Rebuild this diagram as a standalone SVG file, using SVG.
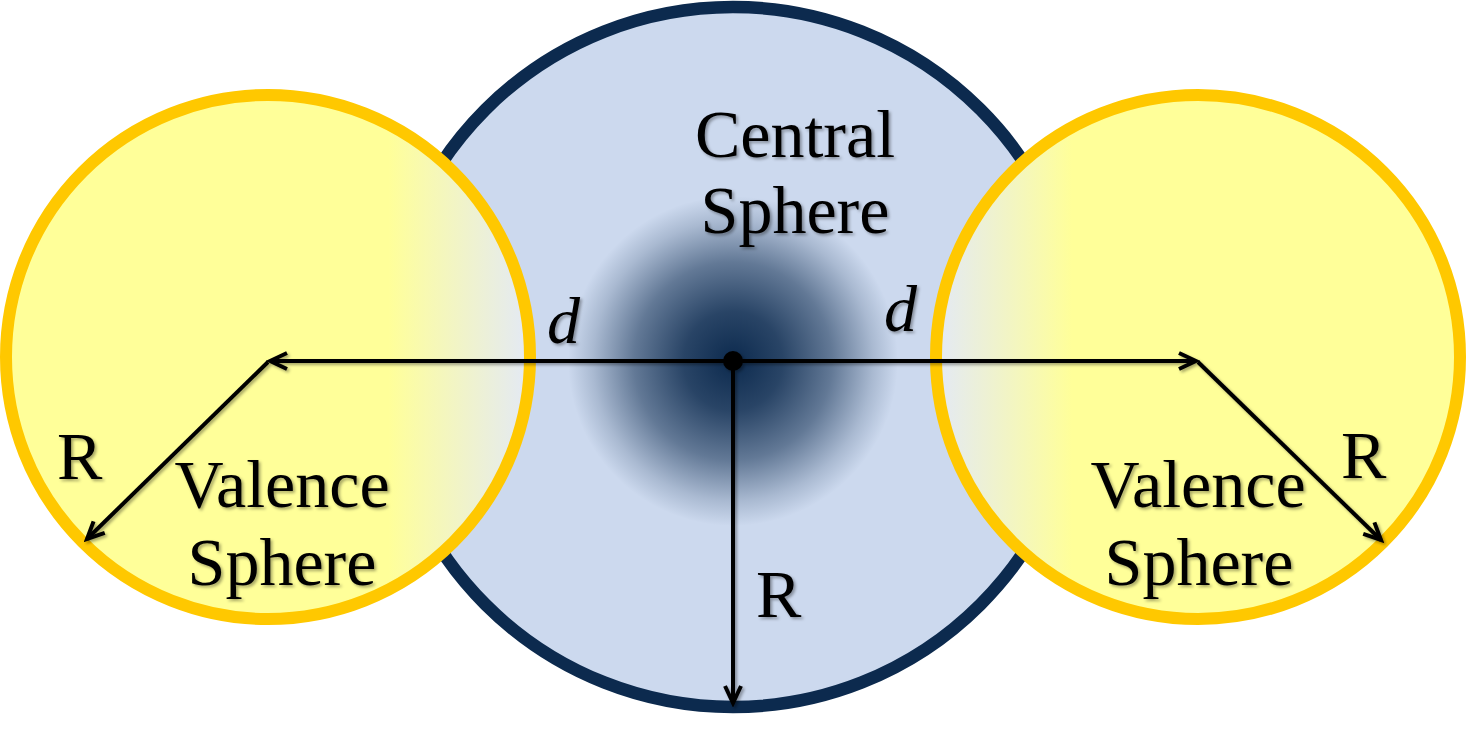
<svg xmlns="http://www.w3.org/2000/svg" width="1468" height="734" viewBox="0 0 1468 734">
<defs>
<style>
.lbl{font-family:"Liberation Serif","Times New Roman",serif;font-size:68px;fill:#000;filter:url(#sh)}
.it{font-style:italic;font-size:66px}
.ln{stroke:#000;stroke-width:4;fill:none}
.ya{stroke:#ffc800;stroke-width:12}
</style>
<filter id="sh" filterUnits="userSpaceOnUse" x="0" y="0" width="1468" height="734">
<feDropShadow dx="2" dy="2" stdDeviation="1.5" flood-color="#000" flood-opacity="0.35"/>
</filter>
<radialGradient id="blob" cx="733" cy="361" r="165" gradientUnits="userSpaceOnUse">
<stop offset="0" stop-color="#0c2a4e" stop-opacity="1"/>
<stop offset="0.3" stop-color="#0c2a4e" stop-opacity="0.85"/>
<stop offset="0.6" stop-color="#0c2a4e" stop-opacity="0.55"/>
<stop offset="0.85" stop-color="#0c2a4e" stop-opacity="0.18"/>
<stop offset="1" stop-color="#0c2a4e" stop-opacity="0"/>
</radialGradient>
<linearGradient id="yl" x1="0" y1="0" x2="1" y2="0">
<stop offset="0" stop-color="#ffff99"/>
<stop offset="0.73" stop-color="#ffff99"/>
<stop offset="1" stop-color="#e3e9f6"/>
</linearGradient>
<linearGradient id="yr" x1="0" y1="0" x2="1" y2="0">
<stop offset="0" stop-color="#e3e9f6"/>
<stop offset="0.26" stop-color="#ffff99"/>
<stop offset="1" stop-color="#ffff99"/>
</linearGradient>
<marker id="ah" viewBox="-24 -12 28 24" refX="0" refY="0" markerWidth="28" markerHeight="24" markerUnits="userSpaceOnUse" orient="auto">
<path d="M-17,-8 L0,0 L-17,8" fill="none" stroke="#000" stroke-width="4"/>
</marker>
</defs>
<rect width="1468" height="734" fill="#fff"/>
<g id="central-sphere">
<circle cx="733" cy="357" r="350" fill="#ccd9ee" stroke="#0c2a4e" stroke-width="12.5"/>
<circle cx="733" cy="361" r="165" fill="url(#blob)"/>
</g>
<g id="valence-left">
<circle class="ya" cx="268" cy="357" r="262" fill="url(#yl)"/>
</g>
<g id="valence-right">
<circle class="ya" cx="1198" cy="357" r="262" fill="url(#yr)"/>
</g>
<g id="connectors" filter="url(#sh)">
<path class="ln" d="M733,361 L270,361" marker-end="url(#ah)"/>
<path class="ln" d="M733,361 L1196,361" marker-end="url(#ah)"/>
<path class="ln" d="M268,362 L87,539" marker-end="url(#ah)"/>
<path class="ln" d="M1198,362 L1381,540" marker-end="url(#ah)"/>
<path class="ln" d="M733,361 L733,703" marker-end="url(#ah)"/>
<circle cx="733" cy="361" r="10" fill="#000"/>
</g>
<g id="labels">
<text class="lbl" x="795" y="157" text-anchor="middle">Central</text>
<text class="lbl" x="795" y="233" text-anchor="middle">Sphere</text>
<text class="lbl it" x="547" y="343">d</text>
<text class="lbl it" x="884" y="331">d</text>
<text class="lbl" x="282" y="507" text-anchor="middle">Valence</text>
<text class="lbl" x="282" y="585" text-anchor="middle">Sphere</text>
<text class="lbl" x="1198" y="507" text-anchor="middle">Valence</text>
<text class="lbl" x="1199" y="585" text-anchor="middle">Sphere</text>
<text class="lbl" x="57" y="479">R</text>
<text class="lbl" x="1341" y="478">R</text>
<text class="lbl" x="756" y="617">R</text>
</g>
</svg>
